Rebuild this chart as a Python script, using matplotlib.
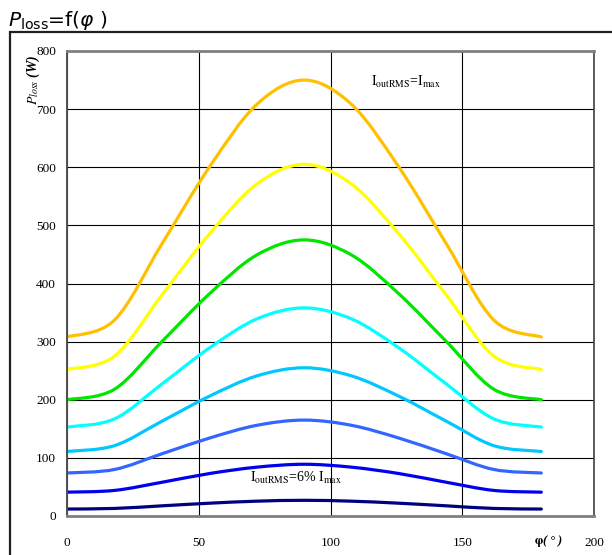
import matplotlib
matplotlib.use("Agg")
import matplotlib.pyplot as plt
from matplotlib.patches import Rectangle, PathPatch
from matplotlib.path import Path

# Phase angle (degrees)
phi = [0, 18, 36, 54, 72, 90, 108, 126, 144, 162, 180]

# Loss curves (W), from full load down to 6 % load
p_100 = [308, 337, 468, 600, 708, 750, 708, 600, 468, 337, 308]
p_85 = [252, 275, 380, 485, 571, 605, 571, 485, 380, 275, 252]
p_70 = [200, 218, 300, 382, 449, 475, 449, 382, 300, 218, 200]
p_55 = [153, 167, 227, 289, 339, 358, 339, 289, 227, 167, 153]
p_40 = [111, 121, 163, 206, 241, 255, 241, 206, 163, 121, 111]
p_25 = [74, 80, 107, 134, 156, 165, 156, 134, 107, 80, 74]
p_12 = [41, 44, 58, 73, 84, 89, 84, 73, 58, 44, 41]
p_6 = [12, 13, 17.5, 22, 25.5, 27, 25.5, 22, 17.5, 13, 12]

series = [p_100, p_85, p_70, p_55, p_40, p_25, p_12, p_6]
colors = ["#FFC000", "#FFFF00", "#00E600", "#00FFFF",
          "#00C8FF", "#3366FF", "#0000EE", "#000080"]

x_ticks = [0, 50, 100, 150, 200]
y_ticks = [0, 100, 200, 300, 400, 500, 600, 700, 800]


def smooth_path(xs, ys):
    """Smoothed line through the points, built from cubic Bezier segments."""
    pts = list(zip(xs, ys))
    n = len(pts)
    verts = [pts[0]]
    codes = [Path.MOVETO]
    for i in range(n - 1):
        p0 = pts[i - 1] if i > 0 else pts[i]
        p1 = pts[i]
        p2 = pts[i + 1]
        p3 = pts[i + 2] if i + 2 < n else pts[i + 1]
        c1 = (p1[0] + (p2[0] - p0[0]) / 6, p1[1] + (p2[1] - p0[1]) / 6)
        c2 = (p2[0] - (p3[0] - p1[0]) / 6, p2[1] - (p3[1] - p1[1]) / 6)
        verts += [c1, c2, p2]
        codes += [Path.CURVE4] * 3
    return Path(verts, codes)


plt.rcParams["mathtext.fontset"] = "stix"
serif = "Liberation Serif"

fig = plt.figure(figsize=(6.12, 5.55), dpi=100)

# outer frame of the chart area
fig.patches.append(Rectangle((10 / 612, -0.05), 1.2, (555 - 32) / 555 + 0.05,
                             transform=fig.transFigure, fill=False,
                             edgecolor="#202020", linewidth=1.6))

fig.text(8 / 612, 1 - 20 / 555, r"$P_{\mathrm{loss}}$=f($\varphi$ )",
         fontsize=14.5, family="DejaVu Sans", math_fontfamily="dejavusans",
         va="center", ha="left")

ax = fig.add_axes([67 / 612, 39 / 555, (594 - 67) / 612, (516 - 51) / 555])
for ys, c in zip(series, colors):
    ax.add_patch(PathPatch(smooth_path(phi, ys), fill=False, edgecolor=c,
                           linewidth=2.3, capstyle="round", joinstyle="round"))

ax.set_xlim(0, 200)
ax.set_ylim(0, 800)
ax.set_xticks(x_ticks)
ax.set_yticks(y_ticks)
ax.grid(True, color="black", linewidth=0.8)
ax.set_axisbelow(True)
ax.tick_params(length=0, labelsize=9.5)
ax.tick_params(axis="x", pad=15)
ax.tick_params(axis="y", pad=8)
for lab in ax.get_xticklabels() + ax.get_yticklabels():
    lab.set_family(serif)

ax.spines["left"].set_color("#505050")
ax.spines["right"].set_color("#404040")
ax.spines["top"].set_color("#808080")
ax.spines["bottom"].set_color("#808080")
ax.spines["left"].set_linewidth(1.4)
ax.spines["right"].set_linewidth(1.2)
ax.spines["top"].set_linewidth(2)
ax.spines["bottom"].set_linewidth(2)

ax.text(115.5, 747, r"$\mathrm{I_{outRMS}}$=$\mathrm{I_{max}}$",
        fontsize=10, family=serif, va="center", ha="left")
ax.text(69.5, 65, r"$\mathrm{I_{outRMS}}$=6% $\mathrm{I_{max}}$",
        fontsize=10, family=serif, va="center", ha="left")

fig.text(548 / 612, 1 - 541 / 555, r"$\boldsymbol{\varphi}$( ° )", fontsize=9,
         family=serif, style="italic", weight="bold", ha="center", va="center")
fig.text(33 / 612, 1 - 80 / 555, r"$\boldsymbol{P_{loss}}$ (W)", fontsize=10,
         family=serif, style="italic", weight="bold", rotation=90,
         ha="center", va="center")

fig.savefig("out.png", dpi=100)
